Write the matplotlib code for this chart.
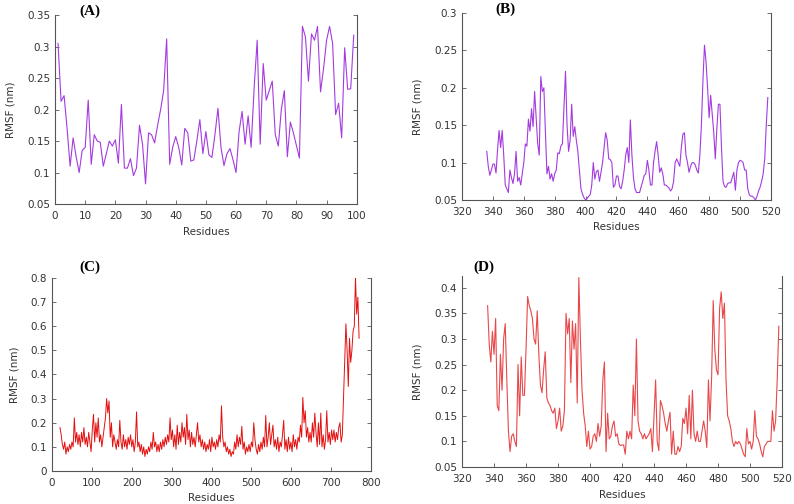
import matplotlib
matplotlib.use('Agg')
import matplotlib.pyplot as plt
import numpy as np

# (A) residues 1-99
res_a = np.arange(1, 100)
rmsf_a = [0.305, 0.213, 0.222, 0.17, 0.11, 0.155, 0.125, 0.1, 0.135, 0.14,
          0.215, 0.113, 0.16, 0.15, 0.148, 0.11, 0.13, 0.15, 0.142, 0.152,
          0.115, 0.208, 0.107, 0.107, 0.122, 0.095, 0.107, 0.175, 0.145, 0.082,
          0.163, 0.16, 0.147, 0.175, 0.2, 0.23, 0.312, 0.113, 0.14, 0.157,
          0.14, 0.112, 0.17, 0.163, 0.118, 0.12, 0.15, 0.184, 0.13, 0.165,
          0.128, 0.124, 0.16, 0.202, 0.14, 0.111, 0.13, 0.138, 0.12, 0.1,
          0.165, 0.197, 0.145, 0.19, 0.14, 0.235, 0.31, 0.145, 0.273, 0.215,
          0.23, 0.245, 0.16, 0.142, 0.2, 0.23, 0.125, 0.18, 0.163, 0.143,
          0.123, 0.332, 0.315, 0.245, 0.32, 0.31, 0.332, 0.228, 0.265, 0.31,
          0.332, 0.305, 0.192, 0.21, 0.155, 0.298, 0.232, 0.233, 0.318]

# (B) residues 336-518
res_b = np.arange(336, 519)
rmsf_b = [0.115, 0.095, 0.083, 0.09, 0.098, 0.098, 0.086, 0.117, 0.143, 0.12,
          0.143, 0.11, 0.07, 0.065, 0.06, 0.09, 0.08, 0.072, 0.085, 0.115,
          0.075, 0.08, 0.07, 0.085, 0.1, 0.125, 0.122, 0.158, 0.142, 0.172,
          0.148, 0.195, 0.16, 0.125, 0.11, 0.215, 0.195, 0.2, 0.14, 0.085,
          0.095, 0.078, 0.085, 0.075, 0.085, 0.09, 0.113, 0.112, 0.122, 0.125,
          0.175, 0.222, 0.15, 0.115, 0.13, 0.178, 0.135, 0.148, 0.13, 0.115,
          0.09, 0.065, 0.058, 0.053, 0.05, 0.052, 0.055, 0.057, 0.07, 0.1,
          0.078, 0.088, 0.09, 0.075, 0.087, 0.1, 0.12, 0.14, 0.13, 0.105,
          0.104, 0.1, 0.067, 0.07, 0.082, 0.082, 0.068, 0.065, 0.075, 0.09,
          0.11, 0.12, 0.1, 0.157, 0.11, 0.08, 0.065, 0.06, 0.06, 0.06,
          0.068, 0.075, 0.083, 0.085, 0.103, 0.09, 0.07, 0.07, 0.1, 0.115,
          0.128, 0.11, 0.087, 0.093, 0.085, 0.07, 0.07, 0.068, 0.066, 0.062,
          0.065, 0.075, 0.1, 0.105, 0.1, 0.095, 0.12, 0.138, 0.14, 0.11,
          0.1, 0.087, 0.095, 0.1, 0.1, 0.097, 0.09, 0.086, 0.11, 0.15,
          0.21, 0.257, 0.235, 0.2, 0.16, 0.19, 0.165, 0.14, 0.105, 0.145,
          0.178, 0.178, 0.12, 0.075, 0.068, 0.067, 0.072, 0.073, 0.073, 0.08,
          0.087, 0.063, 0.09, 0.1, 0.103, 0.102, 0.1, 0.09, 0.09, 0.065,
          0.057, 0.055, 0.055, 0.053, 0.05, 0.055, 0.062, 0.067, 0.075, 0.085,
          0.105, 0.15, 0.187]

# (C) residues 20-770, read every 3rd residue
res_c = np.arange(20, 771, 3)
rmsf_c = [0.18, 0.15, 0.11, 0.09, 0.12, 0.07, 0.1, 0.08, 0.11, 0.09,
          0.12, 0.1, 0.22, 0.12, 0.16, 0.11, 0.15, 0.1, 0.16, 0.12,
          0.18, 0.11, 0.14, 0.1, 0.16, 0.12, 0.08, 0.17, 0.235, 0.12,
          0.2, 0.14, 0.22, 0.12, 0.15, 0.1, 0.14, 0.18, 0.22, 0.3,
          0.24, 0.29, 0.14, 0.2, 0.1, 0.15, 0.12, 0.09, 0.13, 0.1,
          0.21, 0.12, 0.09, 0.15, 0.1, 0.13, 0.09, 0.14, 0.11, 0.15,
          0.1, 0.13, 0.08, 0.12, 0.245, 0.1, 0.12, 0.08, 0.11, 0.07,
          0.1, 0.06, 0.09, 0.07, 0.1, 0.08, 0.12, 0.09, 0.16, 0.1,
          0.12, 0.08, 0.11, 0.08, 0.12, 0.09, 0.13, 0.1, 0.14, 0.11,
          0.15, 0.12, 0.22, 0.13, 0.17, 0.1, 0.15, 0.09, 0.19, 0.11,
          0.16, 0.12, 0.2, 0.14, 0.18, 0.11, 0.235, 0.13, 0.17, 0.1,
          0.16, 0.11, 0.14, 0.1, 0.15, 0.2, 0.12, 0.15, 0.1, 0.13,
          0.09, 0.12, 0.08, 0.11, 0.09, 0.13, 0.08, 0.14, 0.1, 0.12,
          0.09, 0.13, 0.1, 0.15, 0.12, 0.27, 0.14, 0.1, 0.12, 0.08,
          0.1, 0.07, 0.09, 0.06, 0.08, 0.07, 0.12, 0.09, 0.15, 0.1,
          0.14, 0.11, 0.185, 0.09, 0.12, 0.07, 0.1, 0.08, 0.11, 0.08,
          0.12, 0.1, 0.2, 0.13, 0.09, 0.07, 0.11, 0.08, 0.12, 0.09,
          0.14, 0.1, 0.23, 0.1, 0.14, 0.2, 0.11, 0.15, 0.19, 0.1,
          0.13, 0.09, 0.14, 0.08, 0.12, 0.1, 0.15, 0.21, 0.09, 0.13,
          0.08, 0.14, 0.09, 0.12, 0.08, 0.15, 0.1, 0.13, 0.09, 0.14,
          0.12, 0.19, 0.14, 0.305, 0.2, 0.25, 0.14, 0.18, 0.12, 0.16,
          0.12, 0.2, 0.14, 0.24, 0.16, 0.1, 0.2, 0.11, 0.24, 0.1,
          0.15, 0.09, 0.13, 0.25, 0.12, 0.16, 0.11, 0.17, 0.13, 0.17,
          0.12, 0.16, 0.13, 0.18, 0.2, 0.12, 0.15, 0.3, 0.45, 0.61,
          0.5, 0.35, 0.55, 0.45, 0.5, 0.58, 0.6, 0.8, 0.65, 0.72,
          0.55]

# (D) residues 336-518
res_d = np.arange(336, 519)
rmsf_d = [0.365, 0.29, 0.255, 0.315, 0.27, 0.34, 0.17, 0.16, 0.27, 0.2,
          0.3, 0.33, 0.22, 0.12, 0.08, 0.11, 0.115, 0.1, 0.09, 0.25,
          0.15, 0.265, 0.19, 0.19, 0.28, 0.383, 0.365, 0.355, 0.34, 0.3,
          0.29, 0.355, 0.27, 0.21, 0.195, 0.24, 0.275, 0.185, 0.175, 0.17,
          0.16, 0.155, 0.165, 0.125, 0.14, 0.165, 0.12, 0.13, 0.16, 0.35,
          0.31, 0.34, 0.215, 0.335, 0.28, 0.33, 0.175, 0.42, 0.3, 0.2,
          0.155, 0.13, 0.09, 0.12, 0.085, 0.09, 0.11, 0.115, 0.1, 0.135,
          0.11, 0.13, 0.22, 0.255, 0.08, 0.155, 0.105, 0.11, 0.13, 0.14,
          0.11, 0.115, 0.095, 0.092, 0.093, 0.093, 0.075, 0.12, 0.105, 0.12,
          0.105, 0.21, 0.15, 0.3, 0.14, 0.12, 0.115, 0.105, 0.115, 0.105,
          0.11, 0.115, 0.125, 0.08, 0.15, 0.22, 0.1, 0.082, 0.18, 0.17,
          0.155, 0.135, 0.12, 0.14, 0.157, 0.075, 0.12, 0.075, 0.075, 0.09,
          0.08, 0.09, 0.145, 0.135, 0.165, 0.115, 0.19, 0.105, 0.2, 0.115,
          0.1, 0.12, 0.1, 0.1, 0.12, 0.14, 0.12, 0.088, 0.22, 0.14,
          0.225, 0.375, 0.28, 0.24, 0.23, 0.36, 0.392, 0.34, 0.37, 0.22,
          0.15, 0.14, 0.125, 0.1, 0.09, 0.1, 0.095, 0.1, 0.095, 0.085,
          0.075, 0.07, 0.125, 0.095, 0.1, 0.085, 0.1, 0.16, 0.11, 0.105,
          0.095, 0.08, 0.07, 0.09, 0.095, 0.1, 0.1, 0.1, 0.16, 0.12,
          0.14, 0.22, 0.325]

purple = '#a43be0'

fig = plt.figure(figsize=(7.94, 5.04), dpi=100, facecolor='white')

panels = [
    # rect, x, y, color, line width, xlim, ylim, yticks, xticks, tag, tag pos
    ([0.0693, 0.5952, 0.380, 0.375], res_a, rmsf_a, purple, 0.8, (0, 100), (0.05, 0.35),
     np.arange(0.05, 0.36, 0.05), np.arange(0, 101, 10), '(A)', (0.116, 1.02)),
    ([0.5819, 0.6032, 0.389, 0.371], res_b, rmsf_b, purple, 0.8, (320, 520), (0.05, 0.30),
     np.arange(0.05, 0.31, 0.05), np.arange(320, 521, 20), '(B)', (0.139, 1.02)),
    ([0.0655, 0.0655, 0.4018, 0.383], res_c, rmsf_c, '#e31010', 0.7, (0, 800), (0, 0.8),
     np.arange(0, 0.81, 0.1), np.arange(0, 801, 100), '(C)', (0.119, 1.057)),
    ([0.5819, 0.0734, 0.403, 0.379], res_d, rmsf_d, '#e8484a', 0.8, (320, 520), (0.05, 0.423),
     np.arange(0.05, 0.41, 0.05), np.arange(320, 521, 20), '(D)', (0.069, 1.047)),
]

for rect, x, y, col, lw, xl, yl, yt, xt, tag, tpos in panels:
    ax = fig.add_axes(rect)
    ax.plot(x, y, color=col, linewidth=lw)
    ax.set_xlim(xl)
    ax.set_ylim(yl)
    ax.set_yticks(yt)
    ax.set_xticks(xt)
    ax.set_yticklabels(['%g' % round(v, 2) for v in yt])
    ax.spines['top'].set_visible(False)
    for s in ['left', 'bottom', 'right']:
        ax.spines[s].set_color('#555555')
        ax.spines[s].set_linewidth(0.8)
    ax.tick_params(direction='in', length=3, width=0.6, colors='#555555',
                   labelcolor='#333333', labelsize=7.5, right=True, top=False)
    ax.tick_params(axis='x', pad=5)
    ax.set_xlabel('Residues', fontsize=7.5, color='#333333', labelpad=4)
    ax.set_ylabel('RMSF (nm)', fontsize=7.5, color='#333333', labelpad=8)
    ax.text(tpos[0], tpos[1], tag, transform=ax.transAxes, ha='center', va='center',
            fontsize=11, fontweight='bold', family='Liberation Serif')

plt.savefig('out.png', dpi=100, facecolor='white')
